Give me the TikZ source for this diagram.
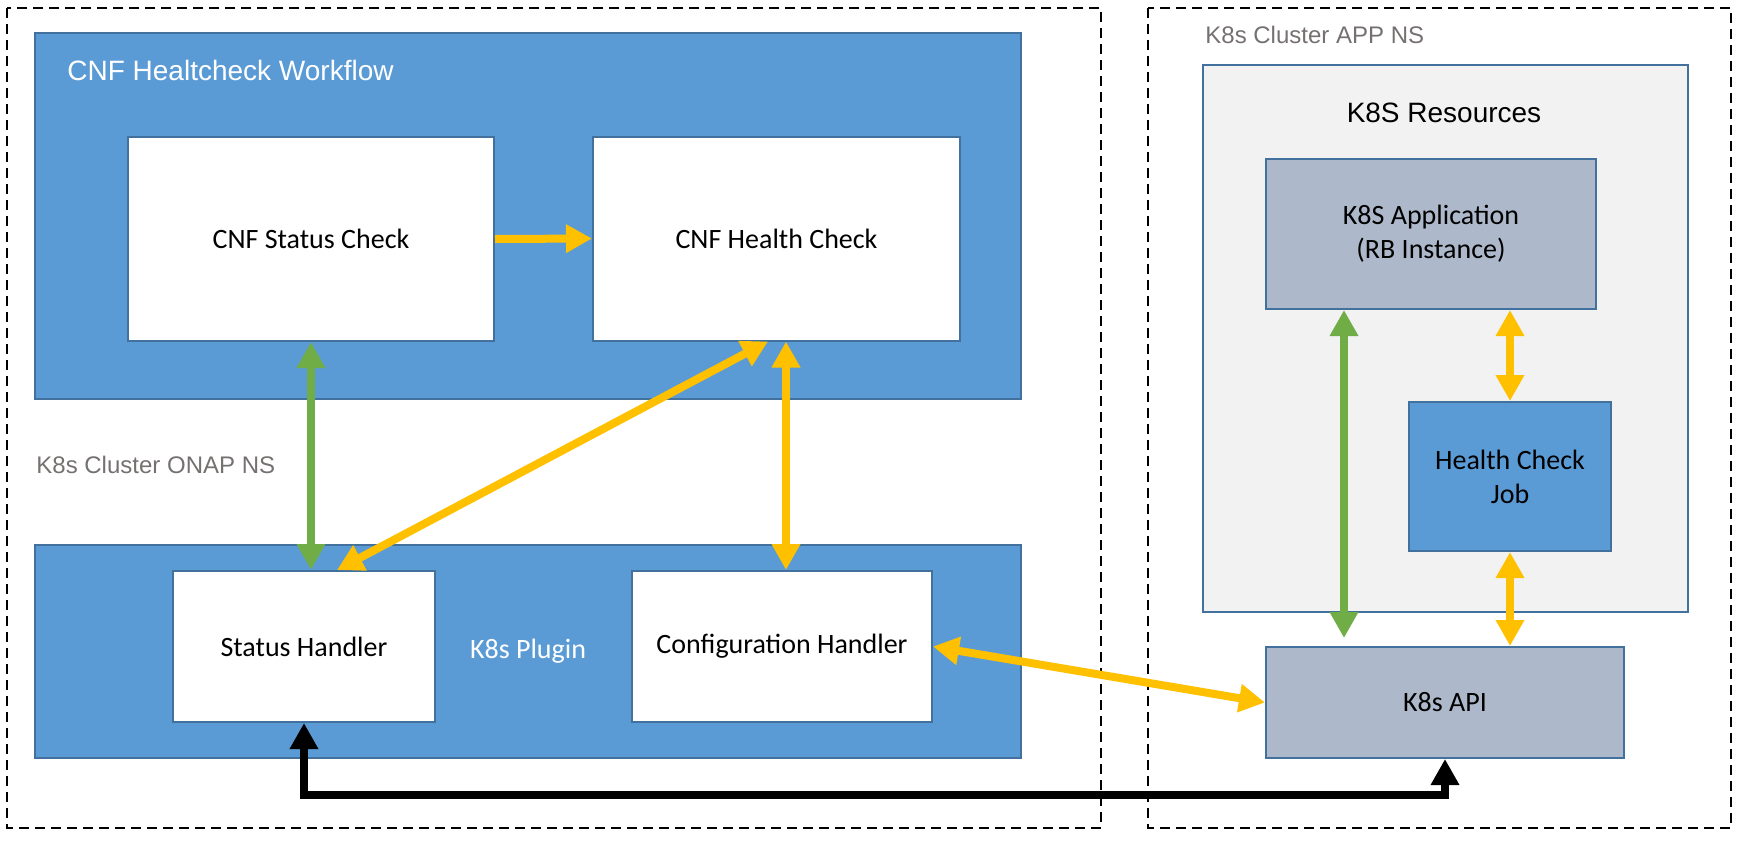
\documentclass[tikz,border=0pt]{standalone}
\usepackage{fontspec}
\setmainfont{Carlito}
\newfontfamily\arialfont{Liberation Sans}
\usetikzlibrary{arrows.meta}
\definecolor{hcblue}{HTML}{5B9BD5}
\definecolor{hcborder}{HTML}{41719C}
\definecolor{hcgray}{HTML}{ADB9CA}
\definecolor{hclight}{HTML}{F2F2F2}
\definecolor{hcyellow}{HTML}{FFC000}
\definecolor{hcgreen}{HTML}{70AD47}
\definecolor{hctext}{HTML}{767171}
\tikzstyle{every node}=[font=\fontsize{14}{17}\selectfont]
\tikzstyle{box}=[draw=hcborder,line width=1pt,inner sep=0pt,align=center]
\tikzstyle{bluebox}=[box,fill=hcblue]
\tikzstyle{whitebox}=[box,fill=white]
\tikzstyle{greybox}=[box,fill=hcgray]
\tikzstyle{ns}=[draw,line width=1pt,dash pattern=on 5pt off 3pt]
\tikzstyle{nslabel}=[anchor=west,inner sep=0pt,text=hctext,font=\arialfont\fontsize{12}{14}\selectfont]
\tikzstyle{yarrow}=[draw=hcyellow,line width=4pt]
\tikzstyle{garrow}=[draw=hcgreen,line width=4pt]
\tikzstyle{karrow}=[draw=black,line width=4pt]
\tikzset{>={Triangle[length=13pt,width=13.5pt]}}

\begin{document}
\begin{tikzpicture}[x=0.5pt,y=-0.5pt]
    \useasboundingbox (0,0) rectangle (1744,842);

    % Namespaces
    \draw[ns] (7,8) rectangle (1101,828);
    \draw[ns] (1148,8) rectangle (1731,828);
    \node[nslabel] (onapns) at (36,465) {K8s Cluster ONAP NS};
    \node[nslabel] (appns) at (1205,35) {K8s Cluster APP NS};

    % Workflow (ONAP side, top)
    \node[bluebox,minimum width=493pt,minimum height=183pt] (workflow) at (528,216) {};
    \node[anchor=west,inner sep=0pt,text=white,font=\arialfont\fontsize{14}{17}\selectfont] (wftitle) at (67,70) {CNF Healtcheck Workflow};
    \node[whitebox,minimum width=183pt,minimum height=102pt] (statuscheck) at (311,239) {CNF Status Check};
    \node[whitebox,minimum width=183.5pt,minimum height=102pt] (healthcheck) at (776.5,238.5) {CNF Health Check};

    % K8s plugin (ONAP side, bottom)
    \node[bluebox,text=white,minimum width=493pt,minimum height=106.5pt] (plugin) at (528,651.5) {K8s Plugin};
    \node[whitebox,minimum width=131pt,minimum height=75.5pt] (statushandler) at (304,646.5) {Status Handler};
    \node[whitebox,minimum width=150pt,minimum height=75.5pt] (confighandler) at (782,646.5) {Configuration Handler};

    % K8s resources (APP side)
    \node[box,fill=hclight,minimum width=242.5pt,minimum height=273.5pt] (resources) at (1445.5,338.5) {};
    \node[font=\arialfont\fontsize{14}{17}\selectfont] (restitle) at (1444,113) {K8S Resources};
    \node[greybox,minimum width=165pt,minimum height=75pt] (app) at (1431,234) {K8S Application\\(RB Instance)};
    \node[bluebox,minimum width=101pt,minimum height=74.5pt] (hcjob) at (1510,476.5) {Health Check\\Job};
    \node[greybox,minimum width=179pt,minimum height=55.5pt] (api) at (1445,702.5) {K8s API};

    % Connections inside ONAP NS
    \draw[yarrow,->] (statuscheck.east) -- (healthcheck.west);
    \draw[garrow,<->] (statuscheck.south) -- (statuscheck.south |- statushandler.north);
    \draw[yarrow,<->] ([xshift=16.5pt]statushandler.north) -- ([xshift=-4.25pt]healthcheck.south);
    \draw[yarrow,<->] ([xshift=4.75pt]healthcheck.south) -- ([xshift=2pt]confighandler.north);

    % Connections to the APP NS
    \draw[yarrow,<->] (confighandler.east) -- (api.west);
    \draw[karrow,<->] (statushandler.south) -- ++(0,72) -| (api.south);

    % Connections inside APP NS
    \coordinate (apptap) at (1344,638);
    \draw[garrow,<->] (apptap |- app.south) -- (apptap);
    \draw[yarrow,<->] (hcjob.north) -- (hcjob.north |- app.south);
    \draw[yarrow,<->] (hcjob.south) -- (hcjob.south |- api.north);
\end{tikzpicture}
\end{document}
